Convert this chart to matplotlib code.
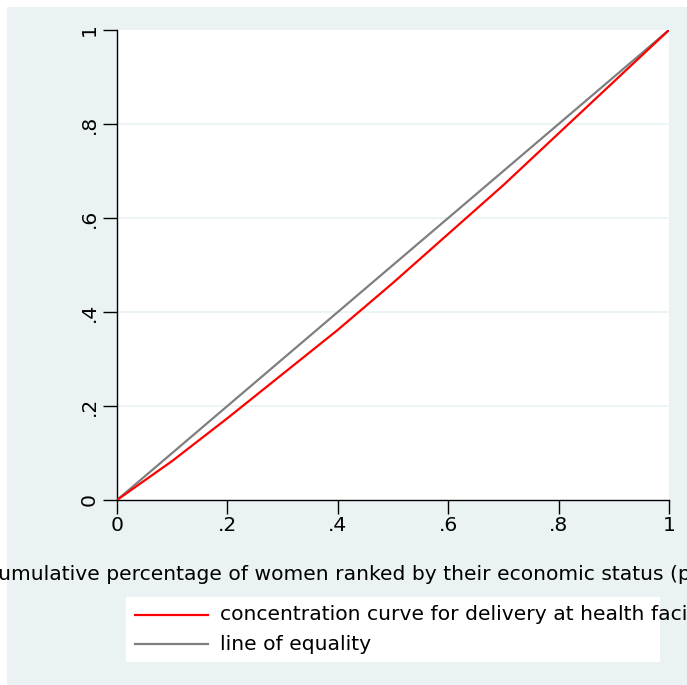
import matplotlib
matplotlib.use("Agg")
import matplotlib.pyplot as plt
from matplotlib.patches import Rectangle
from matplotlib.lines import Line2D

plt.rcParams['font.family'] = ['DejaVu Sans']

# Cumulative share of women (ranked poorest first) and cumulative share of facility deliveries
pop_share = [0.0, 0.1, 0.2, 0.3, 0.4, 0.5, 0.6, 0.7, 0.8, 0.9, 1.0]
delivery_share = [0.0, 0.083, 0.174, 0.268, 0.362, 0.462, 0.566, 0.670, 0.780, 0.890, 1.0]
equality = [0.0, 1.0]

x_ticks = [0, 0.2, 0.4, 0.6, 0.8, 1.0]
x_ticklabels = ["0", ".2", ".4", ".6", ".8", "1"]
y_ticks = [0, 0.2, 0.4, 0.6, 0.8, 1.0]
y_ticklabels = ["0", ".2", ".4", ".6", ".8", "1"]

x_title = "Cumulative percentage of women ranked by their economic status (poorest first)"
legend_labels = ["concentration curve for delivery at health facility", "line of equality"]

W, H = 687, 685
BG = "#EAF2F3"
fig = plt.figure(figsize=(W / 100, H / 100), dpi=100, facecolor="white")

# outer graph region
fig.patches.append(Rectangle((7 / W, 0), 1 - 7 / W, 1 - 7 / H, transform=fig.transFigure,
                             facecolor=BG, edgecolor="none", zorder=-2))

ax = fig.add_axes([117 / W, (H - 500) / H, 552 / W, 470 / H])
ax.set_facecolor("white")
ax.set_xlim(0, 1)
ax.set_ylim(0, 1)

for y in y_ticks[1:-1]:
    ax.axhline(y, color=BG, lw=1.2, zorder=1)

ax.plot(pop_share, delivery_share, color="red", lw=1.6, zorder=3)
ax.plot(equality, equality, color="#7f7f7f", lw=1.6, zorder=2)

for s in ["top", "right"]:
    ax.spines[s].set_visible(False)
for s in ["left", "bottom"]:
    ax.spines[s].set_color("black")
    ax.spines[s].set_linewidth(1.0)

fs = 14.6
ax.set_xticks(x_ticks)
ax.set_xticklabels(x_ticklabels, fontsize=fs)
ax.set_yticks(y_ticks)
ax.set_yticklabels(y_ticklabels, fontsize=fs, rotation=90, va="center")
ax.tick_params(axis="both", direction="out", length=10, width=1.0, color="black",
               labelcolor="black")
ax.tick_params(axis="x", pad=1.5)
ax.tick_params(axis="y", pad=3)

fig.text(396 / W, 1 - 575 / H, x_title, fontsize=fs, ha="center", va="center", color="black")

# legend box
lx0, lx1, ly0, ly1 = 126, 660, 597, 662
fig.patches.append(Rectangle((lx0 / W, 1 - ly1 / H), (lx1 - lx0) / W, (ly1 - ly0) / H,
                             transform=fig.transFigure, facecolor="white",
                             edgecolor="none", zorder=1))
for yy, col, lab in [(615, "red", legend_labels[0]), (644, "#7f7f7f", legend_labels[1])]:
    fig.lines.append(Line2D([135 / W, 208 / W], [1 - yy / H, 1 - yy / H],
                            transform=fig.transFigure, color=col, lw=1.6, zorder=2))
    fig.text(220 / W, 1 - yy / H, lab, fontsize=fs, ha="left", va="center", color="black")

fig.savefig("out.png", dpi=100, facecolor="white")
